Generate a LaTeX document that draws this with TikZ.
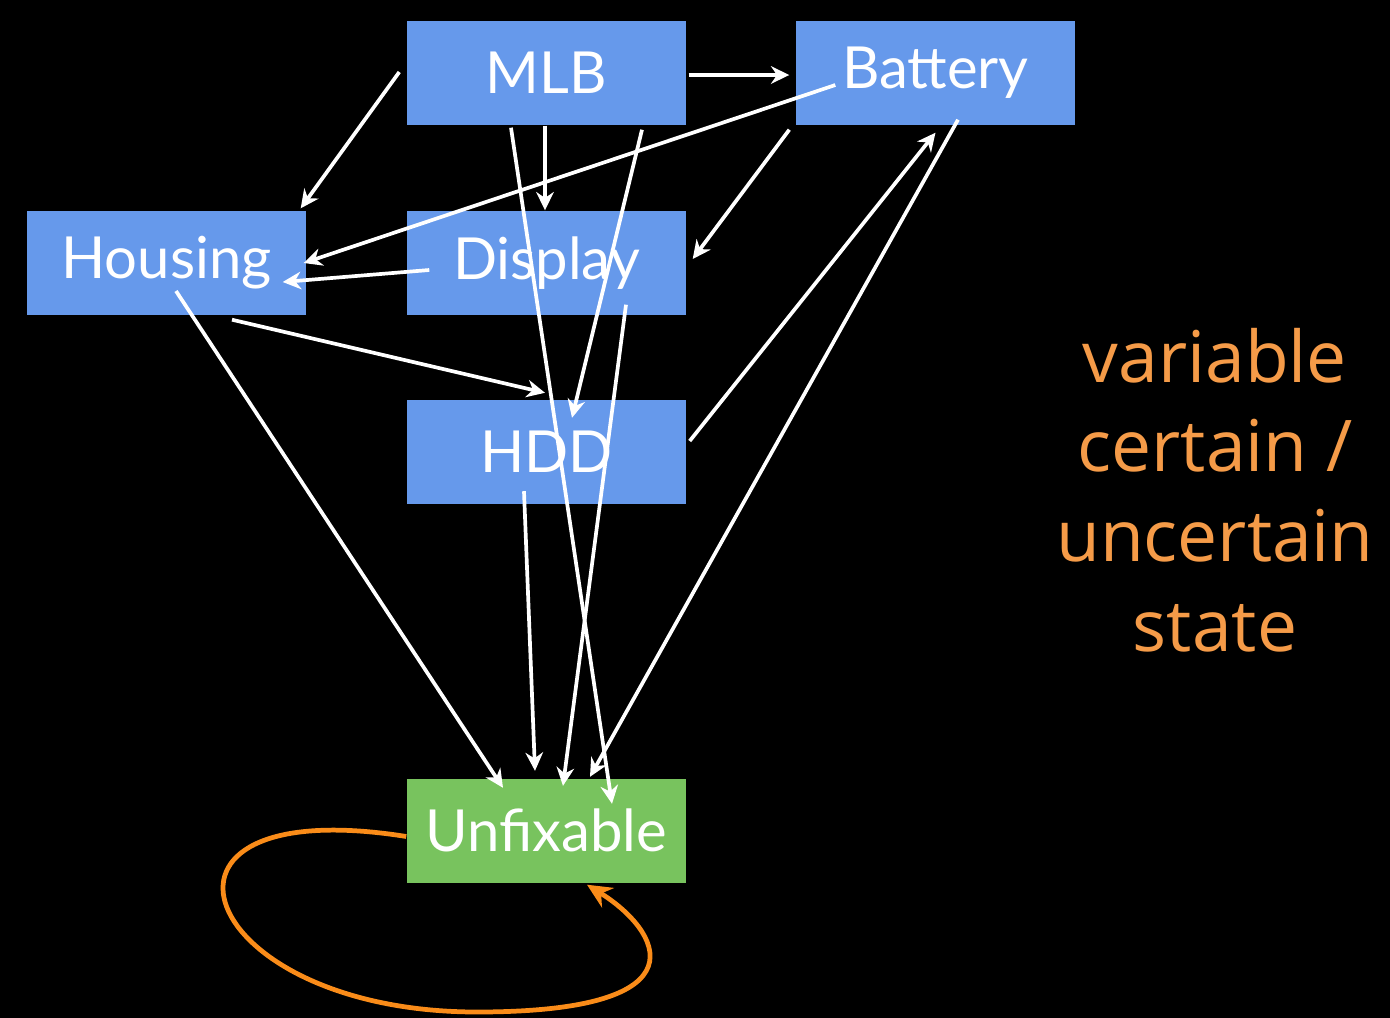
\documentclass[tikz,border=0pt]{standalone}
\usepackage{fontspec}
\setmainfont{Lato}
\newfontfamily\notefont{Open Sans}
\usetikzlibrary{arrows.meta}
\definecolor{boxblue}{RGB}{102,153,235}
\definecolor{boxgreen}{RGB}{120,195,94}
\definecolor{noteorange}{RGB}{245,155,72}
\definecolor{looporange}{RGB}{250,140,25}
\begin{document}
\begin{tikzpicture}[
  part/.style={fill=boxblue,text=white,minimum width=2.79cm,minimum height=1.04cm,inner sep=0pt,font=\fontsize{16.5}{20}\selectfont},
  dead/.style={part,fill=boxgreen},
  link/.style={white,line width=1.05pt,-{Stealth[length=5.2pt,width=5pt]}},
  selfloop/.style={looporange,line width=1.35pt,-{Stealth[length=7pt,width=6.5pt]}},
]
  \fill[black] (0,0) rectangle (13.9,-10.18);
  \node[part] (mlb) at (5.465,-0.73) {MLB};
  \node[part] (bat) at (9.355,-0.73) {Battery};
  \node[part] (hou) at (1.665,-2.63) {Housing};
  \node[part] (dis) at (5.465,-2.63) {Display};
  \node[part] (hdd) at (5.465,-4.515) {HDD};
  \node[dead] (unf) at (5.465,-8.305) {Unfixable};
  \node[font=\notefont\fontsize{20.3}{25.5}\selectfont,text=noteorange,align=center] (note) at (12.15,-4.90) {variable\\certain /\\uncertain\\state};
  \draw[link] ([shift={(0.02,-0.02)}]mlb.east) -- ([shift={(-0.06,-0.02)}]bat.west);
  \draw[link] ([shift={(-0.07,0.01)}]mlb.west) -- ([shift={(-0.06,0.02)}]hou.north east);
  \draw[link] ([shift={(-0.015,0)}]mlb.south) -- ([shift={(-0.015,0)}]dis.north);
  \draw[link] ([shift={(0.955,-0.04)}]mlb.south) -- ([shift={(0.255,-0.19)}]hdd.north);
  \draw[link] ([shift={(-0.355,-0.02)}]mlb.south) -- ([shift={(0.655,-0.26)}]unf.north);
  \draw[link] ([shift={(0.40,-0.12)}]bat.west) -- ([shift={(-0.03,0)}]hou.east);
  \draw[link] ([shift={(-0.06,-0.04)}]bat.south west) -- ([shift={(0.06,0.04)}]dis.east);
  \draw[link] ([shift={(0.225,0.06)}]bat.south) -- ([shift={(0.435,0.01)}]unf.north);
  \draw[link] ([shift={(0.03,0.105)}]hdd.east) -- ([shift={(0,-0.07)}]bat.south);
  \draw[link] ([shift={(0.23,-0.07)}]dis.west) -- ([shift={(-0.24,-0.19)}]hou.east);
  \draw[link] ([shift={(0.795,0.11)}]dis.south) -- ([shift={(0.165,-0.08)}]unf.north);
  \draw[link] ([shift={(0.655,-0.04)}]hou.south) -- ([shift={(-0.015,0.06)}]hdd.north);
  \draw[link] ([shift={(0.095,-0.28)}]hou.center) -- ([shift={(-0.435,-0.10)}]unf.north);
  \draw[link] ([shift={(-0.225,0.13)}]hdd.south) -- ([shift={(-0.115,0.07)}]unf.north);
  \draw[selfloop] ([shift={(0,-0.06)}]unf.west) .. controls (1.15,-7.9) and (1.95,-10.12) .. (4.77,-10.12) .. controls (7.1,-10.12) and (6.6,-9.3) .. ([shift={(0.405,-0.015)}]unf.south);
\end{tikzpicture}
\end{document}
